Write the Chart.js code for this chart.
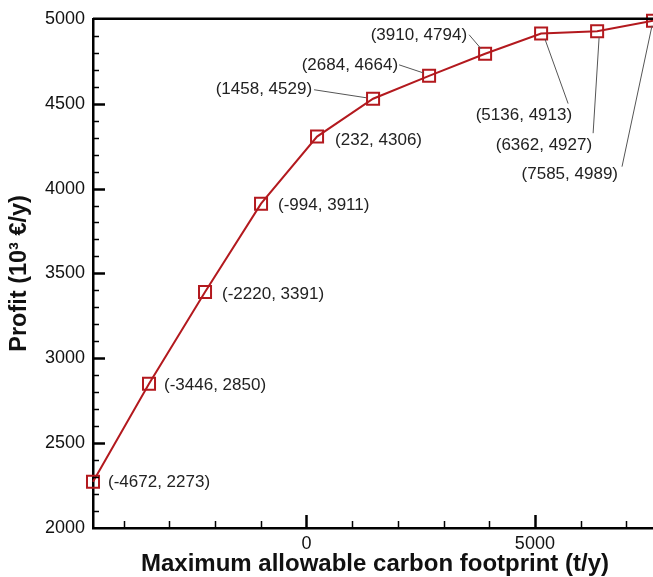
<!DOCTYPE html>
<html>
<head>
<meta charset="utf-8">
<script src="https://cdn.jsdelivr.net/npm/chart.js@4"></script>
<style>
  html, body { margin: 0; padding: 0; background: #fff; }
  #wrap { width: 653px; height: 577px; }
</style>
</head>
<body>
<div id="wrap"><canvas id="profitChart" width="653" height="577"></canvas></div>
<script>
// carbon footprint limit (t/y) and profit (10^3 €/y)
const footprint = [-4672, -3446, -2220, -994, 232, 1458, 2684, 3910, 5136, 6362, 7585];
const profit = [2273, 2850, 3391, 3911, 4306, 4529, 4664, 4794, 4913, 4927, 4989];

const xTickLabels = [0, 5000];
const xMinorTicks = [-4000, -3000, -2000, -1000, 0, 1000, 2000, 3000, 4000, 5000, 6000, 7000];
const yTickLabels = [2000, 2500, 3000, 3500, 4000, 4500, 5000];
const yMinorStep = 100;

// where each label sits relative to its point: [dx, dy, align, leader from, leader to]
const labelPlace = [
    [15, 1, "left"],
    [15, 2, "left"],
    [17, 2, "left"],
    [17, 2, "left"],
    [18, 4, "left"],
    [-61, -9, "right", [-59, -9], [-7, -1]],
    [-31, -11, "right", [-30, -11], [-6, -3]],
    [-18, -18, "right", [-16, -19], [-4, -5]],
    [31, 82, "right", [27, 70], [4, 6]],
    [-5, 114, "right", [-4, 102], [2, 6]],
    [-35, 154, "right", [-31, 146], [-1, 5]],
];

const FONT = "'Liberation Sans', Arial, Helvetica, sans-serif";
const RED = "#b3191e";

const ctx = document.getElementById("profitChart").getContext("2d");

const frame = {
    id: "frame",
    afterDatasetsDraw(chart) {
        const c = chart.ctx;
        const area = chart.chartArea;
        const xs = chart.scales.x;
        const ys = chart.scales.y;
        c.save();

        // inward tick marks
        c.strokeStyle = "#000";
        xMinorTicks.forEach(v => {
            const px = Math.round(xs.getPixelForValue(v)) + 0.5;
            const major = xTickLabels.includes(v);
            c.lineWidth = major ? 2.5 : 1.5;
            c.beginPath();
            c.moveTo(px, area.bottom);
            c.lineTo(px, area.bottom - (major ? 13 : 7));
            c.stroke();
        });
        for (let v = ys.min + yMinorStep; v < ys.max; v += yMinorStep) {
            const py = Math.round(ys.getPixelForValue(v)) + 0.5;
            const major = yTickLabels.includes(v);
            c.lineWidth = major ? 2.5 : 1.5;
            c.beginPath();
            c.moveTo(area.left, py);
            c.lineTo(area.left + (major ? 12 : 6), py);
            c.stroke();
        }

        // top frame line
        c.lineWidth = 2.5;
        c.beginPath();
        c.moveTo(area.left, area.top);
        c.lineTo(area.right, area.top);
        c.stroke();

        // point labels and leaders
        c.font = "17px " + FONT;
        c.textBaseline = "middle";
        footprint.forEach((fx, i) => {
            const px = xs.getPixelForValue(fx);
            const py = ys.getPixelForValue(profit[i]);
            const p = labelPlace[i];
            if (p[3]) {
                c.strokeStyle = "#555";
                c.lineWidth = 1;
                c.beginPath();
                c.moveTo(px + p[3][0], py + p[3][1]);
                c.lineTo(px + p[4][0], py + p[4][1]);
                c.stroke();
            }
            c.fillStyle = "#222";
            c.textAlign = p[2];
            c.fillText("(" + fx + ", " + profit[i] + ")", px + p[0], py + p[1]);
        });

        // axis titles
        c.fillStyle = "#111";
        c.font = "bold 24px " + FONT;
        c.textAlign = "center";
        c.textBaseline = "middle";
        c.fillText("Maximum allowable carbon footprint (t/y)", 375, 564);
        c.font = "bold 23.5px " + FONT;
        c.translate(20, (area.top + area.bottom) / 2);
        c.rotate(-Math.PI / 2);
        c.fillText("Profit (10³ €/y)", 0, 0);
        c.restore();
    }
};

new Chart(ctx, {
    type: "line",
    data: {
        datasets: [{
            label: "Profit",
            data: footprint.map((x, i) => ({ x, y: profit[i] })),
            borderColor: RED,
            borderWidth: 2,
            pointStyle: "rect",
            pointRadius: 8.5,
            pointBorderWidth: 2,
            pointBorderColor: RED,
            pointBackgroundColor: "rgba(0,0,0,0)",
            tension: 0,
            clip: false
        }]
    },
    options: {
        responsive: false,
        animation: false,
        layout: { autoPadding: false, padding: { top: 16, right: 0, left: 0, bottom: 0 } },
        plugins: {
            legend: { display: false },
            tooltip: { enabled: false }
        },
        scales: {
            x: {
                type: "linear",
                min: footprint[0],
                max: footprint[footprint.length - 1],
                grid: { display: false, drawTicks: false },
                border: { display: true, color: "#000", width: 2.5 },
                afterFit: s => { s.height = 49; },
                afterBuildTicks: s => { s.ticks = xTickLabels.map(v => ({ value: v })); },
                ticks: {
                    autoSkip: false,
                    maxRotation: 0,
                    padding: 5,
                    color: "#111",
                    font: { family: FONT, size: 18 },
                    callback: v => String(v)
                }
            },
            y: {
                min: 2000,
                max: 5000,
                grid: { display: false, drawTicks: false },
                border: { display: true, color: "#000", width: 2.5 },
                afterFit: s => { s.width = 93; },
                afterBuildTicks: s => { s.ticks = yTickLabels.map(v => ({ value: v })); },
                ticks: {
                    autoSkip: false,
                    padding: 8,
                    color: "#111",
                    font: { family: FONT, size: 18 },
                    callback: v => String(v)
                }
            }
        }
    },
    plugins: [frame]
});
</script>
</body>
</html>
